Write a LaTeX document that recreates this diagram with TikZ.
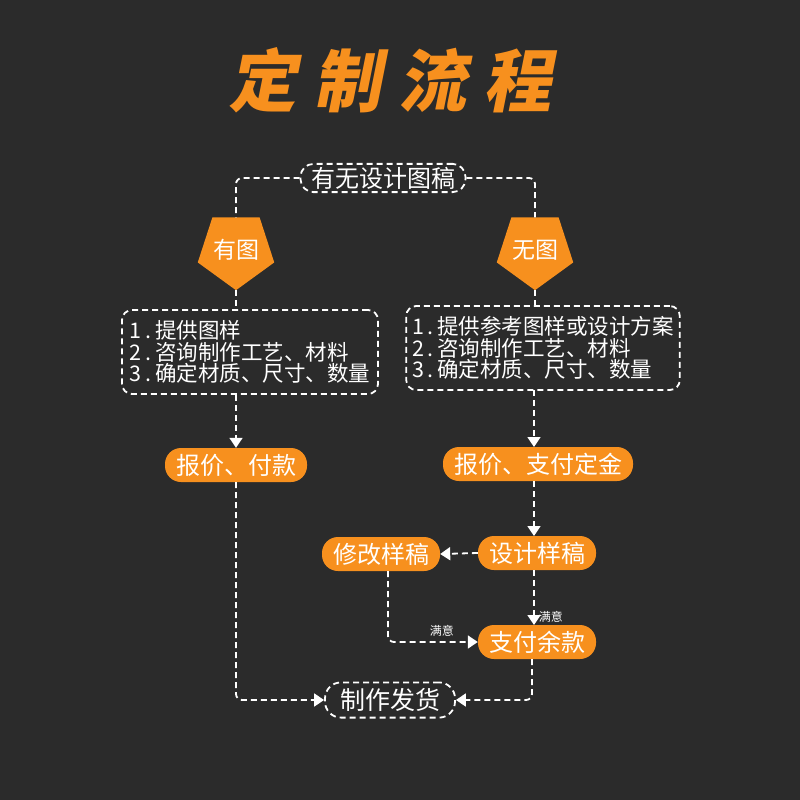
\documentclass[tikz,border=0pt]{standalone}
\usepackage{fontspec}
\setmainfont{Noto Sans CJK SC}
\newfontfamily\titlefont[FakeSlant=0.2,LetterSpace=25]{Noto Sans CJK SC}
\usetikzlibrary{arrows.meta,shapes.geometric}

\definecolor{bgdark}{HTML}{2B2B2B}
\definecolor{flowor}{HTML}{F7901E}

\begin{document}
\begin{tikzpicture}[x=1pt,y=-1pt,
  dashline/.style={draw=white,line width=1.8pt,dash pattern=on 6pt off 4pt},
  arr/.style={dashline,-{Triangle[width=13pt,length=10pt]}},
  pill/.style={fill=flowor,text=white,rounded corners=16pt,minimum height=34pt,inner xsep=11pt,font=\fontsize{24}{26}\selectfont},
  dashbox/.style={dashline,text=white,rounded corners=10pt,align=left,inner xsep=6pt,inner ysep=8pt,font=\fontsize{21.5}{21.5}\selectfont},
  tagshape/.style={regular polygon,regular polygon sides=5,shape border rotate=180,minimum size=70pt,inner sep=0pt,fill=flowor,text=white,font=\fontsize{23}{25}\selectfont},
  note/.style={text=white,font=\fontsize{12}{13}\selectfont,inner sep=1pt}]
  \fill[bgdark] (0,0) rectangle (800,800);
  \node[text=flowor,font=\titlefont\bfseries\fontsize{68}{70}\selectfont] (title) at (390,80) {定制流程};

  % question
  \node[dashbox,rounded corners=13pt,inner ysep=3pt,font=\fontsize{24}{26}\selectfont,minimum width=165pt] (ask) at (383,178) {有无设计图稿};
  \node[tagshape] (ltag) at (236,250) {有图};
  \node[tagshape] (rtag) at (535,250) {无图};
  \draw[dashline,rounded corners=6pt] (ask.west) -| (ltag.north);
  \draw[dashline,rounded corners=6pt] (ask.east) -| (rtag.north);

  % two branches
  \node[dashbox,minimum width=256pt,minimum height=84pt] (lbox) at (250,352)
    {1\,.\,提供图样\\2\,.\,咨询制作工艺、材料\\3\,.\,确定材质、尺寸、数量};
  \node[dashbox,minimum width=273pt,minimum height=84pt] (rbox) at (543,348)
    {1\,.\,提供参考图样或设计方案\\2\,.\,咨询制作工艺、材料\\3\,.\,确定材质、尺寸、数量};
  \draw[dashline] (ltag.south) -- (ltag.south |- lbox.north);
  \draw[dashline] (rtag.south) -- (rtag.south |- rbox.north);

  \node[pill] (lpay) at (236,465) {报价、付款};
  \node[pill] (rpay) at (538,464) {报价、支付定金};
  \draw[arr] (lpay.north |- lbox.south) -- (lpay.north);
  \draw[arr] (534,390) -- (534,447);

  \node[pill] (design) at (537,553) {设计样稿};
  \node[pill] (revise) at (381,554) {修改样稿};
  \node[pill] (rest) at (537,642) {支付余款};
  \draw[arr] (534,481) -- (534,536);
  \draw[arr] (design.west) -- (revise.east);
  \draw[arr] (534,570) -- node[note,pos=0.85,right=3pt] (ok1) {满意} (534,625);
  \draw[arr,rounded corners=6pt] (388,571) |- node[note,pos=0.8,above=4pt] (ok2) {满意} (rest.west);

  % finish
  \node[dashbox,rounded corners=16pt,inner ysep=6pt,font=\fontsize{25}{27}\selectfont,minimum width=130pt] (ship) at (390,700) {制作发货};
  \draw[arr,rounded corners=6pt] (lpay.south) |- (ship.west);
  \draw[arr,rounded corners=6pt] (532,659) |- (ship.east);
\end{tikzpicture}
\end{document}
